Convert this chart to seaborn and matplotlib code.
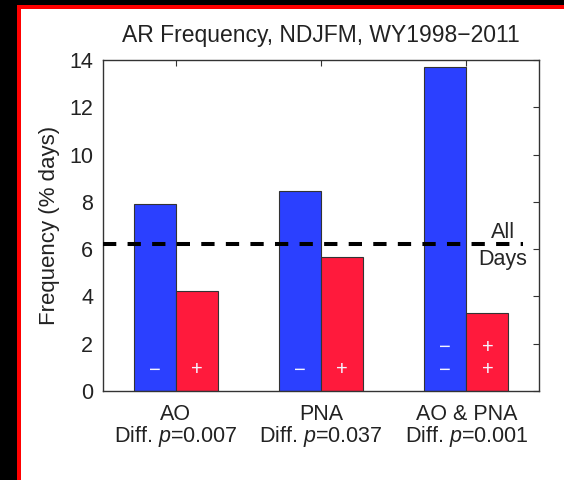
#Bar chart of AR frequency for AO / PNA phases

#Import libraries
import pandas as pd
import seaborn as sns
import matplotlib.pyplot as plt
from matplotlib.patches import Rectangle

#Data
groups = ["AO", "PNA", "AO & PNA"]
p_values = ["0.007", "0.037", "0.001"]
negative = [7.9, 8.45, 13.7]
positive = [4.25, 5.65, 3.3]
all_days = 6.2
#sign rows drawn inside each bar (negative bars first, then positive)
neg_signs = [["\u2212"], ["\u2212"], ["\u2212", "\u2212"]]
pos_signs = [["+"], ["+"], ["+", "+"]]
sign_rows = [0.89, 1.86]

df = pd.DataFrame({
    "group": groups * 2,
    "phase": ["neg"] * 3 + ["pos"] * 3,
    "freq": negative + positive,
})

sns.set_style("white")
plt.rcParams["font.family"] = ["Liberation Sans", "DejaVu Sans"]
plt.rcParams["mathtext.fontset"] = "custom"
plt.rcParams["mathtext.it"] = "Liberation Sans:italic"
plt.rcParams["mathtext.rm"] = "Liberation Sans"

fig = plt.figure(figsize=(5.64, 4.8), dpi=100, facecolor="black")
#Red frame and white panel behind the axes
fig.patches.append(Rectangle((17 / 564, -0.05), 1.0, (480 - 5) / 480 + 0.05,
                             transform=fig.transFigure, facecolor="#ff0000",
                             edgecolor="none", zorder=-2))
fig.patches.append(Rectangle((21 / 564, -0.05), 1.0, (480 - 9) / 480 + 0.05,
                             transform=fig.transFigure, facecolor="white",
                             edgecolor="none", zorder=-1))

ax = fig.add_axes([103 / 564, 89 / 480, 436 / 564, 331 / 480])
sns.barplot(data=df, x="group", y="freq", hue="phase", order=groups,
            hue_order=["neg", "pos"], palette=["#2b40ff", "#ff1a3c"],
            width=0.58, saturation=1, edgecolor="#333333", linewidth=0.8,
            legend=False, ax=ax)

#All days reference line
ax.axhline(all_days, xmin=0, xmax=0.963, color="black", lw=2.9,
           dashes=(3.3, 2.8), zorder=5)
ax.text(2.25, all_days + 0.05, "All", ha="center", va="bottom", fontsize=15.5)
ax.text(2.25, all_days - 0.2, "Days", ha="center", va="top", fontsize=15.5)

#Signs inside the bars
signs = neg_signs + pos_signs
for bar, rows in zip(ax.patches, signs):
    cx = bar.get_x() + bar.get_width() / 2
    for s, y in zip(rows, sign_rows):
        ax.text(cx, y, s, color="#f4f4ff", ha="center", va="center",
                fontsize=14.5)

ax.set_xlim(-0.5, 2.5)
ax.set_ylim(0, 14)
ax.set_yticks(range(0, 15, 2))
ax.set_xticks(range(3))
ax.set_xticklabels([g + "\nDiff. $p$=" + p for g, p in zip(groups, p_values)],
                   fontsize=15.5, linespacing=0.95)
ax.tick_params(axis="y", labelsize=15.5)
ax.tick_params(direction="in", length=4, width=0.8, top=True, right=True,
               colors="#333333", labelcolor="#222222", pad=7)
ax.tick_params(axis="x", pad=9)
for sp in ax.spines.values():
    sp.set_visible(True)
    sp.set_color("#333333")
    sp.set_linewidth(1.0)

ax.set_xlabel("")
ax.set_ylabel("Frequency (% days)", fontsize=16, color="#222222", labelpad=7)
ax.set_title("AR Frequency, NDJFM, WY1998\u22122011", fontsize=16.5,
             color="#222222", pad=13)

plt.savefig("out.png", dpi=100, facecolor="black")
